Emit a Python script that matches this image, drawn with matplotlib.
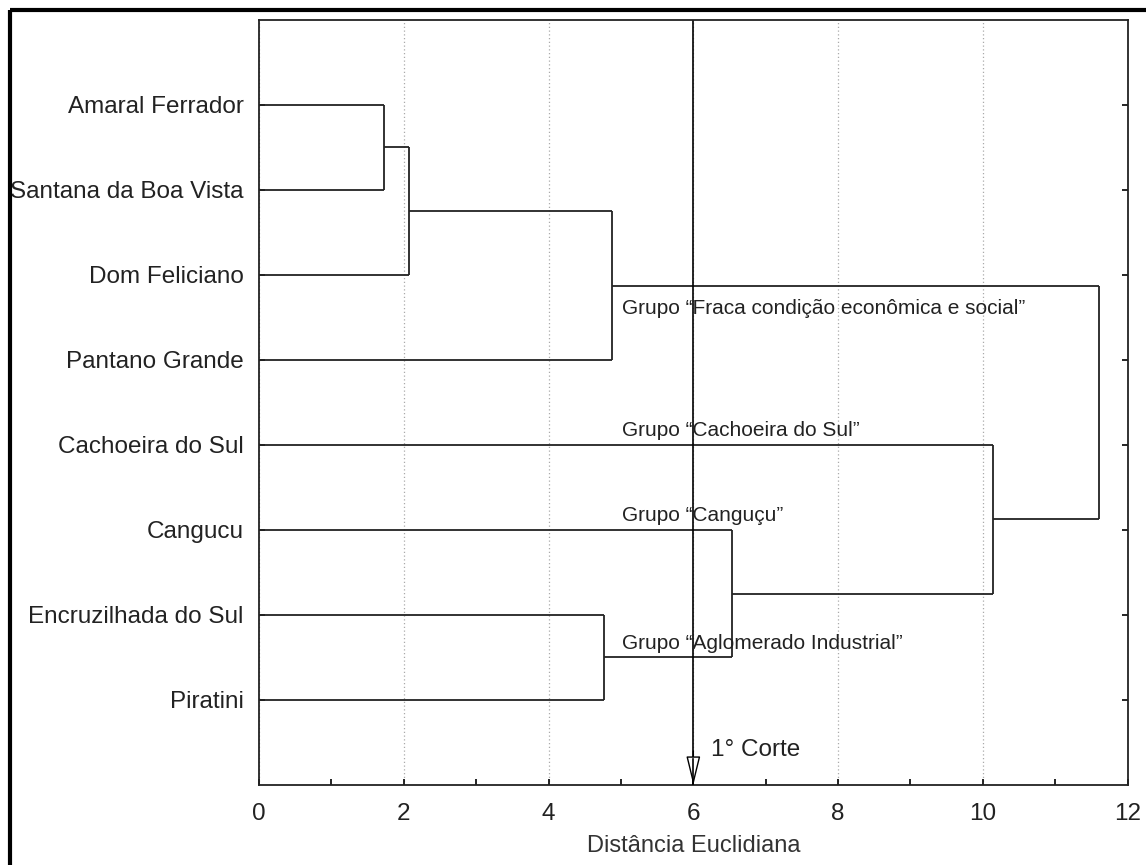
import matplotlib
matplotlib.use('Agg')
import matplotlib.pyplot as plt
from matplotlib.lines import Line2D
from matplotlib.ticker import MultipleLocator

plt.rcParams['font.family'] = ['Liberation Sans', 'DejaVu Sans']

# leaves, top to bottom
leaves = ['Amaral Ferrador', 'Santana da Boa Vista', 'Dom Feliciano', 'Pantano Grande',
          'Cachoeira do Sul', 'Cangucu', 'Encruzilhada do Sul', 'Piratini']

# merges: (left cluster, right cluster, distance); clusters 0-7 are leaves, 8+ are new ones
merge_a = [0, 8, 9, 6, 5, 4, 10]
merge_b = [1, 2, 3, 7, 11, 12, 13]
merge_dist = [1.73, 2.07, 4.88, 4.77, 6.54, 10.14, 11.60]

cut_value = 6
group_labels = ['Grupo \u201cFraca condi\u00e7\u00e3o econ\u00f4mica e social\u201d',
                'Grupo \u201cCachoeira do Sul\u201d',
                'Grupo \u201cCangu\u00e7u\u201d',
                'Grupo \u201cAglomerado Industrial\u201d']
group_label_y = [3.4, 4.83, 5.83, 7.33]

fig = plt.figure(figsize=(11.46, 8.65), dpi=100)
ax = fig.add_axes([0.226, 0.0925, 0.758, 0.8845])

line_kw = dict(color='#222222', lw=1.3, solid_capstyle='butt')

# cluster positions (y) and heights (x)
ypos = {i: i + 1 for i in range(len(leaves))}
xpos = {i: 0.0 for i in range(len(leaves))}
for k, (a, b, d) in enumerate(zip(merge_a, merge_b, merge_dist)):
    c = len(leaves) + k
    ax.plot([xpos[a], d], [ypos[a], ypos[a]], **line_kw)
    ax.plot([xpos[b], d], [ypos[b], ypos[b]], **line_kw)
    ax.plot([d, d], [ypos[a], ypos[b]], **line_kw)
    ypos[c] = (ypos[a] + ypos[b]) / 2
    xpos[c] = d

ax.set_xlim(0, 12)
ax.set_ylim(9, 0)
ax.set_yticks(range(1, len(leaves) + 1))
ax.set_yticklabels(leaves, fontsize=17.5, color='#222222')
ax.xaxis.set_major_locator(MultipleLocator(2))
ax.xaxis.set_minor_locator(MultipleLocator(1))
ax.tick_params(axis='x', labelsize=17.5, labelcolor='#222222', pad=13)
ax.tick_params(axis='y', pad=11)
ax.tick_params(which='both', direction='in', top=False, right=True, length=4, width=1.2)
ax.grid(axis='x', which='major', linestyle=(0, (1, 2)), color='#aaaaaa', lw=0.9)
ax.set_axisbelow(True)
for s in ax.spines.values():
    s.set_linewidth(1.3)
    s.set_color('#222222')
ax.set_xlabel('Dist\u00e2ncia Euclidiana', fontsize=17, color='#333333', labelpad=7)

# cut line with open arrow
ax.plot([cut_value, cut_value], [0, 9], color='black', lw=1.2)
ax.annotate('', xy=(cut_value, 9), xytext=(cut_value, 8.6),
            arrowprops=dict(arrowstyle='-|>,head_length=0.9,head_width=0.22',
                            fc='white', ec='black', lw=1.0, mutation_scale=20,
                            shrinkA=0, shrinkB=0))
ax.plot([cut_value, cut_value], [8.7, 9], color='black', lw=1.2, zorder=5)
ax.text(cut_value + 0.25, 8.72, '1\u00b0 Corte', fontsize=17.5, va='bottom', color='#222222')

for lab, yv in zip(group_labels, group_label_y):
    ax.text(5.01, yv, lab, fontsize=15, va='center', ha='left', color='#222222')

# outer frame (left and top borders)
fig.add_artist(Line2D([0.0085, 0.0085], [0, 0.988], transform=fig.transFigure,
                      color='black', lw=3, solid_capstyle='butt'))
fig.add_artist(Line2D([0.0085, 1.0], [0.988, 0.988], transform=fig.transFigure,
                      color='black', lw=3, solid_capstyle='butt'))

fig.savefig('out.png', dpi=100)
